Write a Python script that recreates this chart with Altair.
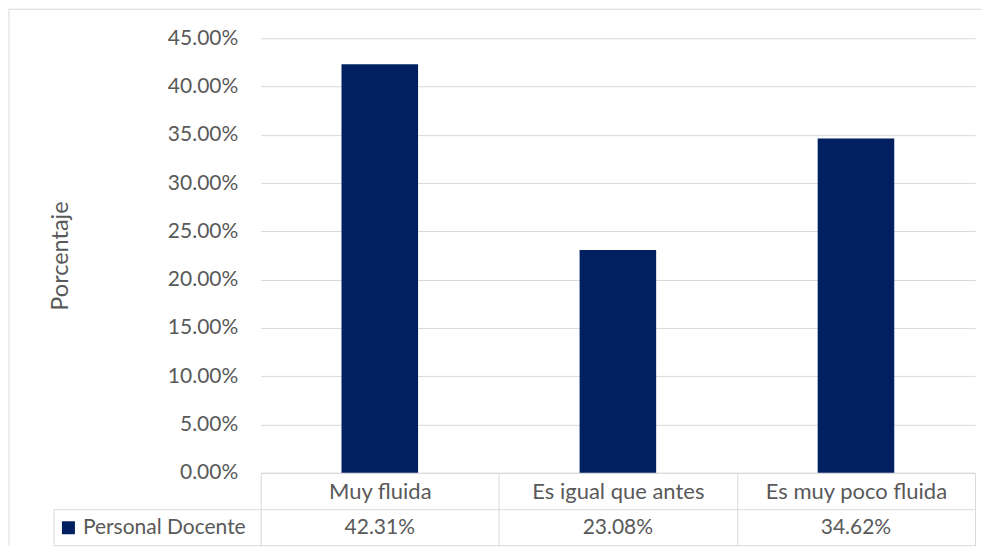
import altair as alt
import pandas as pd

# ---- data ----
categories = ["Muy fluida", "Es igual que antes", "Es muy poco fluida"]
values = [0.4231, 0.2308, 0.3462]
series_name = "Personal Docente"
y_ticks = [0.0, 0.05, 0.10, 0.15, 0.20, 0.25, 0.30, 0.35, 0.40, 0.45]

df = pd.DataFrame({
    "categoria": categories,
    "valor": values,
    "serie": [series_name] * len(categories),
})
one = pd.DataFrame({"k": [0]})

# ---- style ----
TEXT = "#595959"
GRID = "#d9d9d9"
BAR = "#002060"
FONT = "Lato"
FS = 21
W, H = 715, 435
ROW1 = 37      # header row height (below the axis line)
ROW2 = 36      # values row height
MID = H + ROW1
BOT = H + ROW1 + ROW2

x_enc = alt.X(
    "categoria:N",
    sort=categories,
    scale=alt.Scale(paddingInner=0, paddingOuter=0),
    axis=alt.Axis(
        title=None, labelAngle=0, labelFont=FONT, labelFontSize=22,
        labelColor=TEXT, labelBaseline="middle",
        labelPadding=ROW1 / 2 - (ROW1 + ROW2),
        domainColor=GRID, domainWidth=1, tickColor=GRID, tickWidth=1,
        tickSize=ROW1 + ROW2, tickBand="extent", grid=False, labelLimit=300,
    ),
)

y_enc = alt.Y(
    "valor:Q",
    scale=alt.Scale(domain=[0, 0.45], nice=False),
    axis=alt.Axis(
        values=y_ticks, format=".2%", title="Porcentaje",
        labelFont=FONT, labelFontSize=FS, labelColor=TEXT, labelPadding=23,
        titleFont=FONT, titleFontSize=23.5, titleFontWeight="normal",
        titleColor=TEXT, titleAngle=270, titleX=-193, titleY=H / 2,
        titleAlign="center", titleBaseline="alphabetic",
        grid=True, gridColor=GRID, gridWidth=1, domain=False, ticks=False,
    ),
)

bars = alt.Chart(df).mark_bar(width=alt.RelativeBandSize(0.3216)).encode(
    x=x_enc,
    y=y_enc,
    color=alt.Color(
        "serie:N",
        scale=alt.Scale(range=[BAR]),
        legend=alt.Legend(
            title=None, orient="none", legendX=-203, legendY=MID + ROW2 / 2 - 10.5,
            symbolType="square", symbolSize=169, symbolStrokeWidth=0,
            labelFont=FONT, labelFontSize=FS, labelColor=TEXT,
            labelOffset=4, padding=0, labelLimit=300,
        ),
    ),
)

values_row = alt.Chart(df).mark_text(
    font=FONT, fontSize=FS, color=TEXT, baseline="middle"
).encode(
    x=alt.X("categoria:N", sort=categories),
    y=alt.value(MID + ROW2 / 2),
    text=alt.Text("valor:Q", format=".2%"),
)

line_mid = alt.Chart(one).mark_rule(color=GRID, strokeWidth=1).encode(
    x=alt.value(-207), x2=alt.value(W), y=alt.value(MID)
)
line_bot = alt.Chart(one).mark_rule(color=GRID, strokeWidth=1).encode(
    x=alt.value(-207), x2=alt.value(W), y=alt.value(BOT)
)
line_left = alt.Chart(one).mark_rule(color=GRID, strokeWidth=1).encode(
    x=alt.value(-207), y=alt.value(MID), y2=alt.value(BOT)
)
# outer chart border (top and left edges; the others fall outside the picture)
frame_top = alt.Chart(one).mark_rule(color=GRID, strokeWidth=1).encode(
    x=alt.value(-252), x2=alt.value(721), y=alt.value(-29)
)
frame_left = alt.Chart(one).mark_rule(color=GRID, strokeWidth=1).encode(
    x=alt.value(-252), y=alt.value(-29), y2=alt.value(BOT)
)

chart = alt.layer(
    frame_top, frame_left, line_mid, line_bot, line_left, bars, values_row
).properties(
    width=W, height=H, padding=0, background="white"
).configure_view(strokeWidth=0)

chart.save("out.html", embed_options={"renderer": "svg", "actions": False})
